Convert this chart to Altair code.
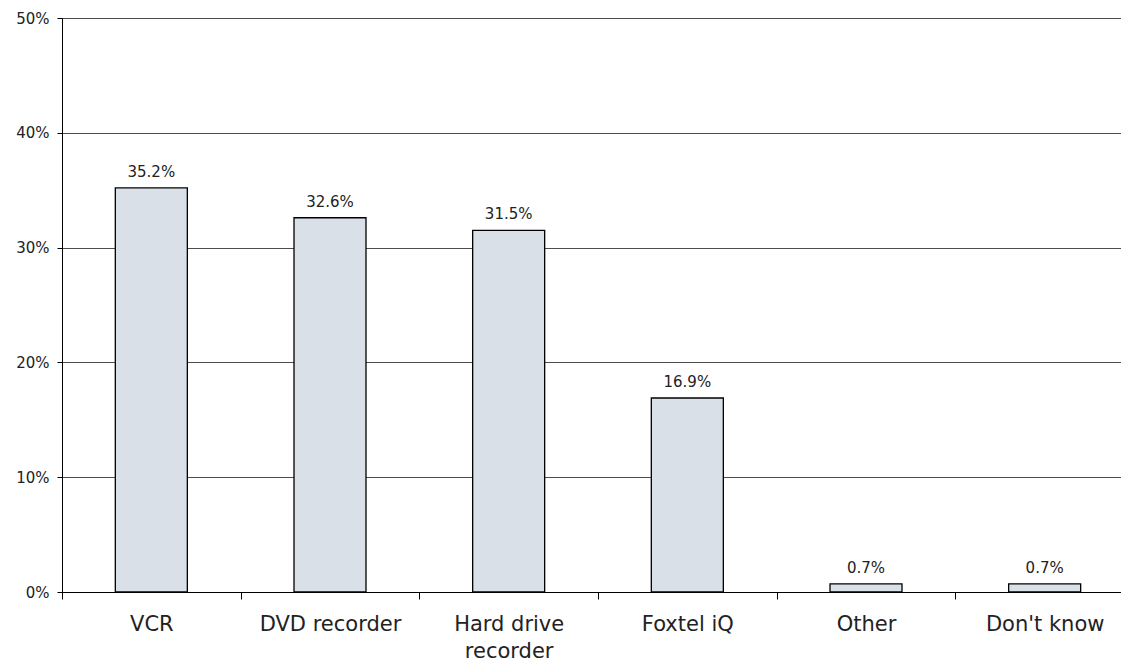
import altair as alt
import pandas as pd

# Recording devices owned, share of respondents (%)
devices = ["VCR", "DVD recorder", "Hard drive|recorder", "Foxtel iQ", "Other", "Don't know"]
shares = [35.2, 32.6, 31.5, 16.9, 0.7, 0.7]

df = pd.DataFrame({"device": devices, "share": shares})

FONT = "DejaVu Sans"
TEXT = "#222222"

x = alt.X(
    "device:N",
    sort=devices,
    title=None,
    scale=alt.Scale(range=[0, 1072], paddingInner=0, paddingOuter=0),
    axis=alt.Axis(
        labelAngle=0,
        labelFont=FONT,
        labelFontSize=21,
        labelColor=TEXT,
        labelPadding=14,
        labelLineHeight=27,
        labelExpr="split(datum.label, '|')",
        tickBand="extent",
        tickSize=7,
        tickColor="black",
        domainColor="black",
        grid=False,
    ),
)

y = alt.Y(
    "share:Q",
    title=None,
    scale=alt.Scale(domain=[0, 50], nice=False),
    axis=alt.Axis(
        values=[0, 10, 20, 30, 40, 50],
        labelExpr="datum.value + '%'",
        labelFont=FONT,
        labelFontSize=15,
        labelColor=TEXT,
        labelPadding=8,
        tickSize=5,
        tickColor="black",
        domainColor="black",
        gridColor="#4d4d4d",
        gridWidth=1,
    ),
)

bars = alt.Chart(df).mark_bar(
    fill="#dae0e8",
    stroke="black",
    strokeWidth=1.3,
    width=alt.RelativeBandSize(0.403),
).encode(x=x, y=y)

labels = alt.Chart(df).transform_calculate(
    txt="format(datum.share, '.1f') + '%'"
).mark_text(
    font=FONT, fontSize=15, color=TEXT, baseline="alphabetic", dy=-11
).encode(x=alt.X("device:N", sort=devices), y="share:Q", text="txt:N")

chart = (
    alt.layer(bars, labels)
    .properties(
        width=1059,
        height=574,
        autosize=alt.AutoSizeParams(type="none"),
        padding={"left": 62, "top": 18, "right": 0, "bottom": 71},
        background="white",
    )
    .configure_view(stroke="black", strokeWidth=1)
)

chart.save("out.html", embed_options={"renderer": "svg", "actions": False})
